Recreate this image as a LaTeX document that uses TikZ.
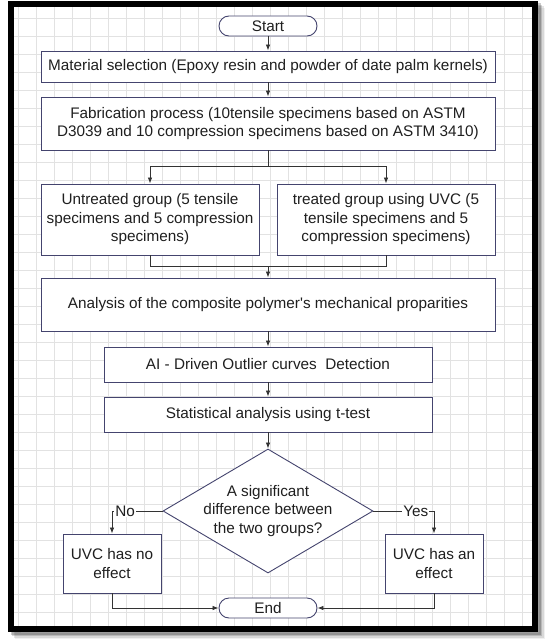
\documentclass[tikz,border=0pt]{standalone}
\usepackage{fontspec}
\setmainfont{Liberation Sans}
\usetikzlibrary{shapes.geometric,arrows.meta}
\definecolor{boxline}{HTML}{44446E}
\definecolor{linkgray}{HTML}{333333}
\definecolor{gridline}{HTML}{E2E2E2}
\begin{document}
\begin{tikzpicture}[x=1pt, y=-1pt,
    font=\fontsize{15.3}{18.5}\selectfont,
    every node/.style={text=black!88},
    box/.style={draw=boxline, line width=0.9pt, fill=white, align=center, inner sep=0pt},
    term/.style={box, rounded corners=10pt, minimum width=98pt, minimum height=20pt},
    decision/.style={box, diamond, aspect=1.7, inner sep=-3pt, minimum width=210pt, minimum height=124pt},
    link/.style={draw=linkgray, line width=0.8pt},
    arr/.style={link, -{Latex[length=6pt,width=4.5pt]}},
    lbl/.style={fill=white, inner sep=1pt}]
  \useasboundingbox (0,0) rectangle (550,642);

  % frame with its shadow
  \foreach \d/\op in {7/0.06, 5.5/0.1, 4/0.15, 2.5/0.2}
    \draw[black, opacity=\op, line width=6pt] (11+\d, 4+\d) rectangle (535+\d, 629+\d);
  \fill[white] (14,7) rectangle (532,626);
  \draw[gridline, line width=0.5pt, step=18pt] (14,7) grid (532,626);
  \draw[black, line width=6pt] (11,4) rectangle (535,629);

  \node[term] (start) at (268, 26){Start};
  \node[box, minimum width=454pt, minimum height=31pt] (mat) at (268, 66.5)
    {Material selection (Epoxy resin and powder of date palm kernels)};
  \node[box, minimum width=454pt, minimum height=53pt] (fab) at (268, 123.5)
    {Fabrication process (10tensile specimens based on ASTM\\D3039 and 10 compression specimens based on ASTM 3410)};

  \node[box, minimum width=218pt, minimum height=71pt] (untr) at (150, 219.5)
    {Untreated group (5 tensile\\specimens and 5 compression\\specimens)};
  \node[box, minimum width=218pt, minimum height=71pt] (trt) at (386, 219.5)
    {treated group using UVC (5\\tensile specimens and 5\\compression specimens)};

  \node[box, minimum width=454pt, minimum height=53pt] (ana) at (268, 304.5)
    {Analysis of the composite polymer\textquotesingle s mechanical proparities};
  \node[box, minimum width=328pt, minimum height=35pt] (ai) at (268, 364.5)
    {AI - Driven Outlier curves\ \ Detection};
  \node[box, minimum width=328pt, minimum height=35pt] (stat) at (268, 414.5)
    {Statistical analysis using t-test};

  \node[decision] (dec) at (268, 511){A significant\\difference between\\the two groups?};
  \node[box, minimum width=98pt, minimum height=59pt] (uvcno) at (112, 563.5){UVC has no\\effect};
  \node[box, minimum width=98pt, minimum height=59pt] (uvcan) at (434, 563.5){UVC has an\\effect};
  \node[term] (finish) at (268, 608){End};

  \coordinate (split) at (268, 166);
  \coordinate (merge) at (268, 266);

  \draw[arr] (start) -- (mat);
  \draw[arr] (mat) -- (fab);
  \draw[link] (fab) -- (split);
  \draw[arr] (split) -| (untr);
  \draw[arr] (split) -| (trt);
  \draw[link] (untr) |- (merge);
  \draw[link] (trt) |- (merge);
  \draw[arr] (merge) -- (ana);
  \draw[arr] (ana) -- (ai);
  \draw[arr] (ai) -- (stat);
  \draw[arr] (stat) -- (dec);
  \draw[arr] (dec) -| node[lbl, pos=.37]{No} (uvcno);
  \draw[arr] (dec) -| node[lbl, pos=.35]{Yes} (uvcan);
  \draw[arr] (uvcno) |- (finish);
  \draw[arr] (uvcan) |- (finish);
\end{tikzpicture}
\end{document}
